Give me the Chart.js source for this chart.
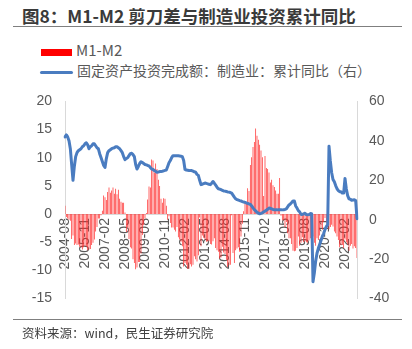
<!DOCTYPE html>
<html>
<head>
<meta charset="utf-8">
<script src="https://cdn.jsdelivr.net/npm/chart.js@4.4.0/dist/chart.umd.min.js"></script>
<style>
  body { margin: 0; width: 412px; height: 349px; background: #fff; position: relative; overflow: hidden;
         font-family: "Noto Sans CJK SC", "Noto Sans", sans-serif; color: #404040; }
  #title { position: absolute; left: 22px; top: 5px; font-size: 17.5px; font-weight: bold; line-height: 22px; white-space: nowrap; color: #3a3a3a; }
  .rule { position: absolute; left: 13px; width: 389px; height: 0; border-top: 1.5px solid #7f7f7f; }
  .leg { position: absolute; left: 40px; font-size: 14px; line-height: 18px; white-space: nowrap; color: #595959; }
  .leg i { display: inline-block; vertical-align: middle; margin-right: 4px; }
  #src { position: absolute; left: 22px; top: 324px; font-size: 12.5px; line-height: 18px; white-space: nowrap; color: #404040; }
  canvas { position: absolute; left: 0; top: 80px; }
</style>
</head>
<body>
<div id="title">图8：M1-M2 剪刀差与制造业投资累计同比</div>
<div class="rule" style="top:26px"></div>
<div class="leg" style="top:41px"><i style="width:31px;height:7px;background:#ff0000;margin-left:1px"></i><span style="font-size:15px">M1-M2</span></div>
<div class="leg" style="top:61px"><i style="width:33px;height:3px;border-radius:2px;background:#4a7cc0"></i>固定资产投资完成额：制造业：累计同比（右）</div>
<canvas id="c" width="412" height="240"></canvas>
<div class="rule" style="top:319px"></div>
<div id="src">资料来源：wind，民生证券研究院</div>
<script>
// monthly, 2004-08 .. 2022-11
var startYear = 2004, startMonth = 8, monthCount = 220
var months = []
for (var k = 0; k < monthCount; k++) {
  var mm = startMonth - 1 + k
  var yy = startYear + Math.floor(mm / 12)
  mm = mm % 12 + 1
  months.push(yy + '-' + (mm < 10 ? '0' + mm : mm))
}

var tickLabels = ['2004-08', '2005-11', '2007-02', '2008-05', '2009-08', '2010-11', '2012-02', '2013-05',
  '2014-08', '2015-11', '2017-02', '2018-05', '2019-08', '2020-11', '2022-02']

// M1-M2 剪刀差 (%)
var m1m2 = [
  1.5, -0.5, -0.8, -1.0, -1.2,
  -4.4, -3.8, -5.5, -5.2, -5.5, -5.4, -5.8, -5.9, -6.3, -5.9, -5.6, -5.8,
  -6.4, -6.3, -6.2, -5.5, -5.1, -4.5, -3.1, -2.3, -0.8, -0.8, -0.2, 0.6,
  3.3, 3.0, 2.5, 3.9, 4.7, 3.8, 4.2, 4.7, 3.6, 4.5, 3.5, 4.3,
  2.7, 2.2, 2.0, 2.0, 0.3, -3.2, -2.4, -4.4, -5.9, -6.1, -8.0, -8.7,
  -9.8, -9.5, -8.5, -8.5, -7.0, -3.7, -2.0, -0.8, 0.2, 2.6, 4.9, 4.7,
  9.7, 9.5, 7.4, 9.0, 8.0, 6.1, 5.0, 2.7, 2.0, 2.8, 2.7, 1.5,
  -1.0, -0.4, -1.6, -2.4, -2.4, -2.8, -3.1, -2.3, -4.1, -4.5, -4.9, -5.7,
  -9.3, -8.7, -9.0, -9.7, -9.7, -8.9, -9.3, -9.0, -7.5, -8.0, -8.4, -7.3,
  -0.6, -5.7, -3.8, -4.2, -4.5, -4.9, -4.8, -4.8, -5.3, -5.4, -4.8, -4.3,
  -6.0, -6.4, -6.7, -7.9, -7.7, -5.8, -6.8, -7.1, -8.1, -9.4, -9.1, -9.0,
  -0.2, -6.9, -8.7, -6.4, -6.1, -5.9, -6.7, -4.0, -1.7, 0.5, 2.0, 1.9,
  4.6, 4.1, 8.7, 10.1, 11.9, 12.8, 15.2, 13.9, 13.2, 12.3, 11.3, 10.1,
  3.2, 10.3, 8.2, 8.0, 7.4, 5.6, 6.1, 5.1, 4.8, 4.2, 3.6, 3.6,
  6.4, -0.3, -1.1, -1.1, -2.3, -1.4, -3.4, -4.3, -4.3, -5.3, -6.5, -6.6,
  -6.5, -6.0, -4.0, -5.6, -5.1, -4.1, -5.0, -4.8, -5.0, -5.1, -4.7, -4.3,
  -6.0, -4.0, -5.1, -5.6, -4.3, -4.6, -3.8, -2.4, -2.8, -1.4, -0.7, -1.5,
  5.3, -2.7, -2.3, -1.9, -2.2, -3.1, -3.4, -4.0, -4.6, -5.9, -5.5, -5.5,
  -6.0, -4.5, -5.0, -5.4, -6.5, -5.6, -5.3, -6.1, -5.7, -6.0, -7.8
]

// 固定资产投资完成额：制造业：累计同比 (%)，右轴
var mfgInvest = [
  42, 43, 42, 40, 36,
  28, 20, 27, 32, 34, 35, 35.5, 36, 37, 37.5, 38.5, 39,
  38, 36, 37, 37.5, 38.5, 38.5, 37.5, 36.5, 36, 33.5, 31.5, 29.5,
  27.5, 26.5, 31, 34, 35, 35.5, 36, 36.3, 36.5, 37, 37, 36.5,
  36, 35, 34, 32, 30.5, 31, 31.5, 32.5, 33.5, 33.7, 33, 32,
  28, 25.7, 27, 28.5, 29.4, 29, 28.5, 28, 27.8, 27.5, 27.3, 26.5,
  25.7, 25.5, 25, 24.5, 24.1, 24.2, 24.4, 24.5, 24.6, 24.8, 25, 25.2,
  27, 28.9, 30, 31.5, 32.5, 32.5, 32.5, 32.4, 32.4, 32.3, 32.2, 32,
  30, 25.5, 25.2, 25.1, 25, 24.9, 24.9, 24.6, 24.3, 24.1, 23, 22.5,
  20, 17.8, 18, 18.3, 18.6, 18.4, 18.2, 18, 17.8, 18.5, 19.4, 18.5,
  17.5, 16.5, 15.7, 15.5, 15.2, 14.9, 14.6, 14.5, 14.3, 14.1, 14, 13.8,
  13.5, 12.5, 11.5, 10.6, 10.2, 10, 9.7, 9.5, 9.2, 9, 8.8, 8.5,
  8.3, 8, 7.8, 7, 6, 5.1, 4.5, 3.8, 3.3, 3, 3.2, 3.5,
  4, 4.3, 4.8, 5.3, 5.9, 5.8, 5.5, 5.2, 5.1, 5, 5, 5.1,
  5.1, 5.1, 5, 5.1, 5.2, 5.5, 6.5, 7.5, 8, 8.7, 9.5, 9.5,
  7, 5.9, 4.6, 4, 2.7, 2.7, 3, 3.3, 2.6, 2.5, 2.6, 3.1,
  3, -31.5, -27, -21, -17, -14.5, -12.5, -10.5, -8.5, -7, -5, -3.5,
  -2.5, 37.3, 29.8, 23.8, 20.4, 19.2, 17.3, 15.7, 14.8, 14.2, 14.2, 13.5,
  13.5, 20.9, 15.6, 12.2, 10.6, 10.4, 9.9, 10, 10.1, 9.7, 0.5
]

var tickFont = { family: "'Liberation Sans', Arial, sans-serif", size: 14 }
var tickColor = '#595959'

new Chart(document.getElementById('c').getContext('2d'), {
  type: 'bar',
  data: {
    labels: months,
    datasets: [{
      type: 'line',
      label: '固定资产投资完成额：制造业：累计同比（右）',
      data: mfgInvest,
      yAxisID: 'y1',
      borderColor: '#4a7cc0',
      borderWidth: 3,
      pointRadius: 0,
      tension: 0,
      borderJoinStyle: 'round',
      borderCapStyle: 'round',
      order: 0
    }, {
      label: 'M1-M2',
      data: m1m2,
      yAxisID: 'y',
      backgroundColor: '#ff3030',
      barPercentage: 0.55,
      categoryPercentage: 1,
      order: 1
    }]
  },
  options: {
    responsive: false,
    animation: false,
    devicePixelRatio: 1,
    layout: { padding: { top: 13, bottom: 17, left: 0, right: 0 } },
    plugins: { legend: { display: false }, tooltip: { enabled: false } },
    scales: {
      x: {
        position: { y: 0 },
        offset: false,
        grid: { display: false, drawTicks: false },
        border: { display: true, color: '#d9d9d9' },
        ticks: {
          autoSkip: false,
          minRotation: 90,
          maxRotation: 90,
          padding: 4,
          color: tickColor,
          font: tickFont,
          callback: function (v) {
            var lab = this.getLabelForValue(v)
            return tickLabels.indexOf(lab) >= 0 ? lab : null
          }
        }
      },
      y: {
        position: 'left',
        min: -15,
        max: 20,
        grid: { display: false, drawTicks: false },
        border: { display: true, color: '#d9d9d9' },
        ticks: { stepSize: 5, padding: 13, color: tickColor, font: tickFont },
        afterFit: function (s) { s.width = 65 }
      },
      y1: {
        position: 'right',
        min: -40,
        max: 60,
        grid: { display: false, drawTicks: false },
        border: { display: true, color: '#d9d9d9' },
        ticks: { stepSize: 20, padding: 12, color: tickColor, font: tickFont },
        afterFit: function (s) { s.width = 55 }
      }
    }
  }
})
</script>
</body>
</html>
